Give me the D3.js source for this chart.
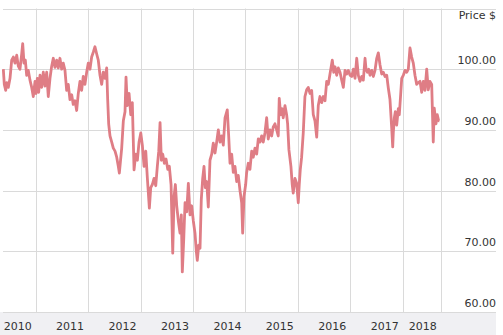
<!DOCTYPE html>
<html>
<head>
<meta charset="utf-8">
<script src="https://cdn.jsdelivr.net/npm/d3@7"></script>
<style>
  html, body { margin: 0; padding: 0; background: #fff; }
  svg { display: block; font-family: "DejaVu Sans", Verdana, sans-serif; }
</style>
</head>
<body>
<svg id="chart" width="503" height="335"></svg>
<script>
// Dates as decimal years
const years = [
 2010.382,2010.401,2010.428,2010.447,2010.477,2010.510,2010.542,2010.573,2010.605,2010.638,
 2010.668,2010.700,2010.733,2010.752,2010.777,2010.802,2010.828,2010.859,2010.891,2010.924,
 2010.954,2010.987,2011.006,2011.031,2011.057,2011.082,2011.114,2011.145,2011.177,2011.210,
 2011.240,2011.273,2011.305,2011.336,2011.368,2011.401,2011.431,2011.463,2011.496,2011.526,
 2011.559,2011.591,2011.622,2011.654,2011.687,2011.717,2011.750,2011.782,2011.813,2011.845,
 2011.877,2011.908,2011.940,2011.973,2012.003,2012.036,2012.068,2012.099,2012.131,2012.164,
 2012.194,2012.227,2012.259,2012.289,2012.322,2012.354,2012.373,2012.392,2012.417,2012.450,
 2012.480,2012.513,2012.545,2012.575,2012.595,2012.640,2012.671,2012.703,2012.722,2012.747,
 2012.780,2012.812,2012.842,2012.875,2012.907,2012.938,2012.970,2013.003,2013.033,2013.066,
 2013.098,2013.129,2013.167,2013.193,2013.224,2013.256,2013.289,2013.319,2013.346,2013.371,
 2013.396,2013.422,2013.453,2013.485,2013.518,2013.548,2013.581,2013.613,2013.638,2013.663,
 2013.689,2013.720,2013.752,2013.777,2013.796,2013.823,2013.848,2013.880,2013.911,2013.943,
 2013.975,2014.006,2014.038,2014.063,2014.082,2014.109,2014.134,2014.158,2014.185,2014.210,
 2014.235,2014.261,2014.292,2014.324,2014.357,2014.387,2014.420,2014.452,2014.483,2014.515,
 2014.548,2014.578,2014.611,2014.654,2014.681,2014.706,2014.738,2014.769,2014.801,2014.834,
 2014.864,2014.897,2014.929,2014.948,2014.973,2015.005,2015.024,2015.055,2015.087,2015.120,
 2015.150,2015.183,2015.215,2015.246,2015.278,2015.310,2015.341,2015.373,2015.406,2015.436,
 2015.469,2015.501,2015.532,2015.564,2015.597,2015.627,2015.646,2015.673,2015.698,2015.722,
 2015.755,2015.787,2015.806,2015.831,2015.869,2015.894,2015.913,2015.946,2015.978,2016.009,
 2016.028,2016.047,2016.073,2016.104,2016.136,2016.169,2016.199,2016.232,2016.264,2016.295,
 2016.327,2016.360,2016.390,2016.422,2016.455,2016.485,2016.518,2016.550,2016.581,2016.613,
 2016.657,2016.684,2016.709,2016.741,2016.771,2016.804,2016.836,2016.867,2016.899,2016.932,
 2016.962,2016.995,2017.027,2017.058,2017.090,2017.122,2017.153,2017.185,2017.218,2017.248,
 2017.281,2017.300,2017.325,2017.351,2017.376,2017.409,2017.439,2017.471,2017.504,2017.534,
 2017.567,2017.599,2017.630,2017.662,2017.695,2017.725,2017.757,2017.790,2017.809,2017.820,
 2017.840,2017.859,2017.885,2017.916,2017.935,2017.962,2017.981,2018.011,2018.044,2018.076,
 2018.107,2018.139,2018.171,2018.202,2018.234,2018.267,2018.297,2018.330,2018.362,2018.393,
 2018.425,2018.458,2018.488,2018.520,2018.553,2018.583,2018.602,2018.635,2018.660,2018.686,
 2018.698
];
const prices = [
 100.0,97.5,96.5,97.8,97.0,98.5,101.5,102.0,101.0,102.3,
 100.5,100.0,102.5,104.2,101.0,101.5,99.0,99.8,98.2,97.0,
 95.5,98.0,96.0,98.5,96.2,99.0,97.0,99.5,97.2,99.5,
 95.5,98.5,100.5,101.8,100.3,101.5,100.2,101.8,100.0,101.0,
 99.8,96.5,97.5,95.0,95.8,94.2,94.8,93.2,96.0,98.0,
 96.5,98.8,97.5,99.5,101.0,100.0,102.0,102.8,103.7,102.5,
 101.5,99.0,97.5,99.5,98.5,100.2,95.0,91.0,89.0,88.0,
 87.0,86.5,85.5,84.0,82.9,87.0,91.5,93.0,98.7,94.0,
 96.0,92.5,94.5,83.4,86.0,85.0,88.0,89.5,87.5,84.0,
 86.5,82.0,77.1,80.5,81.0,82.0,80.8,84.0,86.5,91.2,
 85.0,86.0,84.5,85.2,83.5,84.0,81.0,69.7,79.0,81.0,
 77.5,75.0,73.0,76.0,66.6,72.0,78.0,76.5,81.2,76.0,
 77.5,75.0,73.0,70.0,68.5,71.0,70.5,78.5,82.0,84.0,
 80.5,81.5,77.3,85.0,86.0,87.8,86.2,88.0,90.0,88.0,
 89.0,87.5,92.0,93.3,89.0,84.5,86.0,83.0,84.0,81.5,
 82.5,80.0,78.0,73.0,79.0,81.0,83.0,84.5,83.5,86.5,
 85.5,87.0,86.0,88.5,88.0,89.0,88.0,89.5,92.0,88.5,
 90.0,89.0,90.5,91.0,90.0,89.0,95.2,92.5,93.5,92.0,
 94.0,92.5,91.0,86.7,84.0,81.0,79.6,82.0,81.2,78.0,
 81.0,83.4,85.5,89.5,95.5,96.6,97.0,96.0,96.5,92.5,
 91.5,88.8,94.0,95.5,94.5,95.5,94.8,98.0,97.5,99.2,
 101.5,99.5,100.4,99.0,100.2,99.5,98.2,97.0,99.8,99.2,
 99.8,99.0,98.8,100.0,98.5,101.8,99.0,98.0,98.8,98.2,
 101.8,100.0,99.5,100.0,99.0,99.8,98.8,99.8,101.8,102.7,
 100.7,99.2,99.5,98.8,99.0,96.9,95.0,90.3,87.2,89.5,
 92.0,93.0,90.8,93.5,92.5,96.0,98.5,99.0,99.8,99.5,
 100.0,103.5,102.0,101.0,99.0,97.5,97.8,98.0,96.2,98.0,
 96.5,100.0,96.6,98.0,97.5,88.0,93.6,91.0,92.5,91.5,
 91.5
];
const yTicks = [60, 70, 80, 90, 100];
const yTop = 110;
const xStartYear = 2010.376;
const xEndYear = 2018.725;
const yAxisTitle = "Price $";

function toDate(t) {
  const y = Math.floor(t);
  const start = new Date(y, 0, 1).getTime();
  const end = new Date(y + 1, 0, 1).getTime();
  return new Date(start + (t - y) * (end - start));
}

const data = years.map((t, i) => ({ date: toDate(t), value: prices[i] }));

const svg = d3.select("#chart");
const W = 503, H = 335;
const plotLeft = 3, plotRight = 440.7, gridRight = 496;
const plotTop = 8.5, plotBottom = 312;

const x = d3.scaleTime()
  .domain([toDate(xStartYear), toDate(xEndYear)])
  .range([plotLeft, plotRight]);
const y = d3.scaleLinear().domain([60, yTop]).range([plotBottom, plotTop]);

// bottom band
svg.append("rect").attr("x", 0).attr("y", plotBottom).attr("width", gridRight)
  .attr("height", H - plotBottom).attr("fill", "#f0f0f3");

// horizontal gridlines
const hLines = yTicks.concat([yTop]);
svg.append("g").selectAll("line").data(hLines).join("line")
  .attr("x1", plotLeft).attr("x2", gridRight)
  .attr("y1", d => Math.round(y(d)) + 0.5).attr("y2", d => Math.round(y(d)) + 0.5)
  .attr("stroke", "#dadada").attr("stroke-width", 1);

// vertical gridlines: year starts + domain end
const xTicks = d3.timeYear.range(d3.timeYear.ceil(x.domain()[0]), x.domain()[1]).concat([x.domain()[1]]);
svg.append("g").selectAll("line").data(xTicks).join("line")
  .attr("x1", d => Math.round(x(d)) + 0.5).attr("x2", d => Math.round(x(d)) + 0.5)
  .attr("y1", plotTop).attr("y2", plotBottom)
  .attr("stroke", "#dadada").attr("stroke-width", 1);

// x labels (year preceding each tick), right-aligned to tick
svg.append("g").selectAll("text").data(xTicks).join("text")
  .attr("x", d => x(d) - 4).attr("y", 330)
  .attr("text-anchor", "end")
  .attr("font-size", 11).attr("fill", "#333")
  .text(d => new Date(d.getTime() - 86400000).getFullYear());

// y labels
svg.append("g").selectAll("text").data(yTicks).join("text")
  .attr("x", 496).attr("y", d => y(d) - 5)
  .attr("text-anchor", "end")
  .attr("font-size", 11).attr("fill", "#333")
  .text(d => d3.format(".2f")(d));

svg.append("text").attr("x", 496).attr("y", 18.5)
  .attr("text-anchor", "end").attr("font-size", 11).attr("fill", "#333")
  .text(yAxisTitle);

// price line
const line = d3.line().x(d => x(d.date)).y(d => y(d.value));
svg.append("path").datum(data)
  .attr("d", line)
  .attr("fill", "none")
  .attr("stroke", "#df7d85")
  .attr("stroke-width", 2.8)
  .attr("stroke-linejoin", "round");
</script>
</body>
</html>
